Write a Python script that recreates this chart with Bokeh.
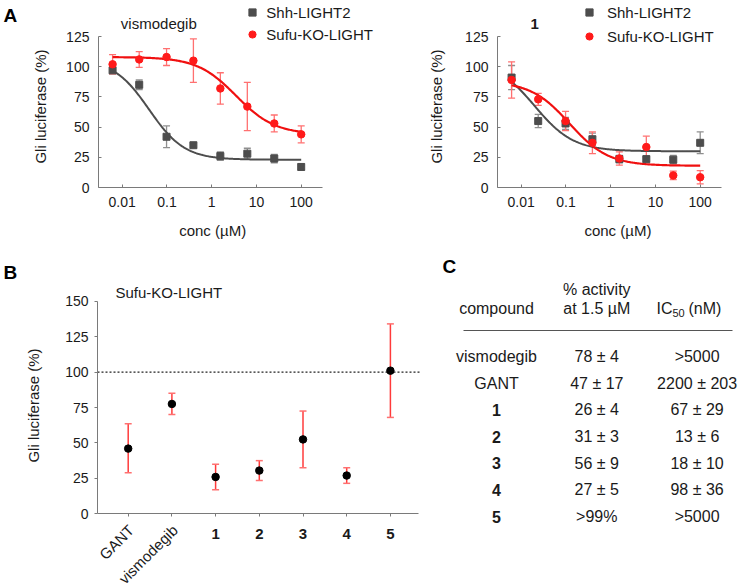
import numpy as np
from bokeh.plotting import figure
from bokeh.models import (Range1d, FixedTicker, Whisker, TeeHead, ColumnDataSource,
                          Legend, LegendItem)
from bokeh.layouts import column, row
from bokeh.embed import file_html
from bokeh.resources import INLINE
from bokeh.core.properties import value

FONT = "Liberation Sans"

# ---------------- data ----------------
conc = [0.0061, 0.024, 0.098, 0.39, 1.56, 6.25, 25.0, 100.0]   # µM

vis_shh = [97, 85, 42, 35, 26, 28, 24, 17]
vis_shh_err = [3, 4, 9, 2, 3.5, 4.5, 3.5, 2.5]
vis_sufu = [102, 106, 108, 105, 82, 67, 53, 44]
vis_sufu_err = [8, 6.5, 7, 18, 13, 20, 7, 7]

c1_shh = [91, 55, 53, 40, 23.5, 23.5, 23, 37]
c1_shh_err = [10, 5.5, 5, 5, 3, 2, 3.5, 9]
c1_sufu = [89, 73, 55, 37, 24, 33.5, 10, 8.5]
c1_sufu_err = [15, 5, 8, 9, 5.5, 9, 3.5, 5.5]

# 4-parameter logistic fits: (top, bottom, IC50 in µM, Hill slope)
vis_shh_fit = (106, 23, 0.04, 1.1)
vis_sufu_fit = (108, 44, 3.5, 1.0)
c1_shh_fit = (105, 30, 0.02, 1.0)
c1_sufu_fit = (88, 18, 0.12, 1.0)

conc_ticks = [0.01, 0.1, 1, 10, 100]
conc_tick_labels = ["0.01", "0.1", "1", "10", "100"]
gli_ticks_a = [0, 25, 50, 75, 100, 125]
gli_ticks_b = [0, 25, 50, 75, 100, 125, 150]

b_names = ["GANT", "vismodegib", "1", "2", "3", "4", "5"]
b_mean = [46, 77.5, 26, 30.5, 52.5, 27, 101]
b_low = [29, 70, 17, 23.5, 32.5, 21.5, 68]
b_high = [63.5, 85, 35, 37.5, 72.5, 32.5, 134]

tbl_compound = ["vismodegib", "GANT", "1", "2", "3", "4", "5"]
tbl_activity = ["78 ± 4", "47 ± 17", "26 ± 4", "31 ± 3", "56 ± 9", "27 ± 5", ">99%"]
tbl_ic50 = [">5000", "2200 ± 203", "67 ± 29", "13 ± 6", "18 ± 10", "98 ± 36", ">5000"]

# ---------------- style ----------------
GRAY = "#4d4d4d"
GRAY_ERR = "#8f8f8f"
RED = "#ff1a1a"
RED_ERR = "#ff7070"
RED_CURVE = "#f01010"
AXIS = "#7a7a7a"
TXT = "#1a1a1a"


def hill(x, top, bottom, ic50, n):
    return bottom + (top - bottom) / (1.0 + (x / ic50) ** n)


def style_axes(p, tick_in, tick_out):
    for ax in p.axis:
        ax.axis_line_color = AXIS
        ax.axis_line_width = 1
        ax.major_tick_line_color = AXIS
        ax.major_tick_in = tick_in
        ax.major_tick_out = tick_out
        ax.minor_tick_line_color = None
        ax.major_label_text_font = FONT
        ax.major_label_text_font_size = "14px"
        ax.major_label_text_color = TXT
    p.xgrid.grid_line_color = None
    p.ygrid.grid_line_color = None
    p.outline_line_color = None
    p.background_fill_color = "white"
    p.border_fill_color = "white"


def txt(p, x, y, s, size="15px", style="normal", align="center", angle=0.0, color=TXT, **kw):
    p.text([x], [y], text=[s], text_font=value(FONT), text_font_size=size,
           text_font_style=style, text_align=align, text_baseline="middle",
           text_color=color, angle=angle, **kw)


PX_PER_DECADE = 44.75
LOG_AXIS = -2.53      # where the y axis crosses
LOG_END = 2.47        # right end of the x axis line
PX_PER_UNIT_A = 1.208
ZERO_PX_A = 187


def panel_a(width, canvas_left, tick001_px, title, title_bold, title_log,
            shh, shh_err, sufu, sufu_err, shh_fit, sufu_fit,
            legend_left, legend_standoff, legend_spacing, letter, ylabel_log, xlabel_x):
    log_left = -2 - (tick001_px - canvas_left) / PX_PER_DECADE
    log_right = log_left + width / PX_PER_DECADE
    p = figure(width=width, height=250, x_axis_type="log",
               x_range=Range1d(10 ** log_left, 10 ** log_right),
               y_range=Range1d((ZERO_PX_A - 250) / PX_PER_UNIT_A, ZERO_PX_A / PX_PER_UNIT_A),
               output_backend="svg", toolbar_location=None,
               min_border_left=0, min_border_right=0, min_border_top=0, min_border_bottom=0)
    style_axes(p, 3, 0)
    p.xaxis.ticker = FixedTicker(ticks=conc_ticks, minor_ticks=[])
    p.xaxis.major_label_overrides = dict(zip(conc_ticks, conc_tick_labels))
    p.xaxis.bounds = (10 ** LOG_AXIS, 10 ** LOG_END)
    p.xaxis.fixed_location = 0
    p.xaxis.major_label_standoff = 9
    p.yaxis.ticker = FixedTicker(ticks=gli_ticks_a, minor_ticks=[])
    p.yaxis.bounds = (0, 125)
    p.yaxis.fixed_location = 10 ** LOG_AXIS
    p.yaxis.major_label_standoff = 9

    xs = np.logspace(np.log10(conc[0]), np.log10(conc[-1]), 200)
    p.line(xs, hill(xs, *shh_fit), line_color=GRAY, line_width=2)
    p.line(xs, hill(xs, *sufu_fit), line_color=RED_CURVE, line_width=2.2)

    for ys, es, col in ((shh, shh_err, GRAY_ERR), (sufu, sufu_err, RED_ERR)):
        src = ColumnDataSource(dict(x=conc, lo=[y - e for y, e in zip(ys, es)],
                                    hi=[y + e for y, e in zip(ys, es)]))
        w = Whisker(source=src, base="x", lower="lo", upper="hi", dimension="height",
                    line_color=col, line_width=1.3,
                    upper_head=TeeHead(size=7, line_color=col, line_width=1.3),
                    lower_head=TeeHead(size=7, line_color=col, line_width=1.3))
        p.add_layout(w)

    r_shh = p.scatter(conc, shh, marker="square", size=7, fill_color=GRAY, line_color=GRAY)
    r_sufu = p.scatter(conc, sufu, marker="circle", size=7.5, fill_color=RED, line_color=RED)

    leg_h = 36 + legend_spacing
    legend = Legend(items=[LegendItem(label="Shh-LIGHT2", renderers=[r_shh]),
                           LegendItem(label="Sufu-KO-LIGHT", renderers=[r_sufu])],
                    location=(legend_left - canvas_left, 250 - 3 - leg_h),
                    glyph_width=18, glyph_height=18, label_height=18,
                    spacing=legend_spacing, padding=0, margin=0,
                    label_standoff=legend_standoff,
                    label_text_font=FONT, label_text_font_size="15px",
                    label_text_color=TXT,
                    border_line_color=None, background_fill_alpha=0)
    p.add_layout(legend)

    txt(p, 10 ** title_log, (ZERO_PX_A - 23) / PX_PER_UNIT_A, title,
        style="bold" if title_bold else "normal")
    txt(p, 10 ** ylabel_log, (ZERO_PX_A - 106) / PX_PER_UNIT_A, "Gli luciferase (%)",
        angle=np.pi / 2)
    txt(p, xlabel_x, (ZERO_PX_A - 230) / PX_PER_UNIT_A, "conc (µM)")
    if letter:
        txt(p, 10 ** (log_left + 3 / PX_PER_DECADE), (ZERO_PX_A - 14.5) / PX_PER_UNIT_A,
            letter, size="19px", style="bold", align="left", color="black")
    return p


pA1 = panel_a(400, 0, 121.7, "vismodegib", False, -1.182,
              vis_shh, vis_shh_err, vis_sufu, vis_sufu_err, vis_shh_fit, vis_sufu_fit,
              243.3, 5, 4, "A", -3.815, 1.05)
pA2 = panel_a(339, 400, 520.7, "1", True, -1.70,
              c1_shh, c1_shh_err, c1_sufu, c1_sufu_err, c1_shh_fit, c1_sufu_fit,
              580, 9, 6, None, -3.89, 1.45)

# ---------------- panel B ----------------
B_TICK0 = 127.7     # px of first category
B_STEP = 43.7
B_ZERO = 513.3 - 250
B_UNIT = 1.4173
bx = list(range(1, len(b_names) + 1))


def bxv(px):
    return 1 + (px - B_TICK0) / B_STEP


def byv(py):
    return (B_ZERO - (py - 250)) / B_UNIT


pB = figure(width=440, height=338, x_range=Range1d(bxv(0), bxv(440)),
            y_range=Range1d(byv(588), byv(250)),
            output_backend="svg", toolbar_location=None,
            min_border_left=0, min_border_right=0, min_border_top=0, min_border_bottom=0)
style_axes(pB, 0, 3)
pB.yaxis.ticker = FixedTicker(ticks=gli_ticks_b, minor_ticks=[])
pB.yaxis.bounds = (0, 150)
pB.yaxis.fixed_location = bxv(97)
pB.yaxis.major_label_standoff = 6
pB.xaxis.ticker = FixedTicker(ticks=bx, minor_ticks=[])
pB.xaxis.bounds = (bxv(97), bxv(418))
pB.xaxis.fixed_location = 0
pB.xaxis.major_label_overrides = {i: (n if n.isdigit() else "") for i, n in zip(bx, b_names)}
pB.xaxis.major_label_text_font_style = "bold"
pB.xaxis.major_label_text_font_size = "15px"
pB.xaxis.major_label_standoff = 12

pB.line([bxv(97), bxv(420)], [100, 100], line_color="#222222", line_width=1.2, line_dash="2 2")
srcB = ColumnDataSource(dict(x=bx, lo=b_low, hi=b_high))
pB.add_layout(Whisker(source=srcB, base="x", lower="lo", upper="hi", dimension="height",
                      line_color="#ff3b3b", line_width=1.5,
                      upper_head=TeeHead(size=7, line_color=RED_ERR, line_width=1.5),
                      lower_head=TeeHead(size=7, line_color=RED_ERR, line_width=1.5)))
pB.scatter(bx, b_mean, marker="circle", size=7.5, fill_color="black", line_color="black")

for i, n in zip(bx, b_names):
    if not n.isdigit():
        txt(pB, i, byv(527), n, align="right", angle=np.pi / 4, x_offset=3)
txt(pB, bxv(115), byv(291.7), "Sufu-KO-LIGHT", align="left")
txt(pB, bxv(33), byv(405), "Gli luciferase (%)", angle=np.pi / 2)
txt(pB, bxv(3), byv(271.5), "B", size="19px", style="bold", align="left", color="black")

# ---------------- panel C (table) ----------------
C_COL0 = 496 - 440
C_COLSTEP = 100.3
C_ROW0 = 356 - 250
C_ROWSTEP = 26.67


def ccol(px):
    return (px - C_COL0) / C_COLSTEP


def crow(py):
    return (py - C_ROW0) / C_ROWSTEP


pC = figure(width=299, height=338, x_range=Range1d(ccol(0), ccol(299)),
            y_range=Range1d(crow(338), crow(0)),
            output_backend="svg", toolbar_location=None,
            x_axis_location=None, y_axis_location=None,
            min_border_left=0, min_border_right=0, min_border_top=0, min_border_bottom=0)
pC.xgrid.grid_line_color = None
pC.ygrid.grid_line_color = None
pC.outline_line_color = None

rows = list(range(len(tbl_compound)))
styles = ["bold" if c.isdigit() else "normal" for c in tbl_compound]
srcC = ColumnDataSource(dict(r=rows, comp=tbl_compound, act=tbl_activity, ic=tbl_ic50,
                             st=styles, c0=[0] * len(rows), c1=[1] * len(rows), c2=[2] * len(rows)))
common = dict(text_font=value(FONT), text_font_size="16px", text_align="center",
              text_baseline="middle", text_color=TXT)
pC.text(x="c0", y="r", text="comp", text_font_style="st", source=srcC, **common)
pC.text(x="c1", y="r", text="act", source=srcC, **common)
pC.text(x="c2", y="r", text="ic", source=srcC, **common)

pC.text([0], [crow(308 - 250)], text=["compound"], **common)
pC.text([1], [crow(289 - 250)], text=["% activity"], **common)
pC.text([1], [crow(308 - 250)], text=["at 1.5 µM"], **common)
hdr = dict(text_font=value(FONT), text_align="left", text_baseline="middle", text_color=TXT)
ic_x = ccol(656 - 440)
pC.text([ic_x], [crow(308 - 250)], text=["IC"], text_font_size="16px", **hdr)
pC.text([ic_x], [crow(308 - 250)], text=["50"], text_font_size="11px", x_offset=16, y_offset=4, **hdr)
pC.text([ic_x], [crow(308 - 250)], text=["(nM)"], text_font_size="16px", x_offset=32, **hdr)
pC.line([ccol(463 - 440), ccol(732 - 440)], [crow(330 - 250)] * 2, line_color="#555555", line_width=1)
pC.text([ccol(442 - 440)], [crow(266 - 250)], text=["C"], text_font=value(FONT), text_font_size="19px",
        text_font_style="bold", text_align="left", text_baseline="middle", text_color="black")

layout = column(row(pA1, pA2), row(pB, pC))
open("out.html", "w").write(file_html(layout, INLINE))
